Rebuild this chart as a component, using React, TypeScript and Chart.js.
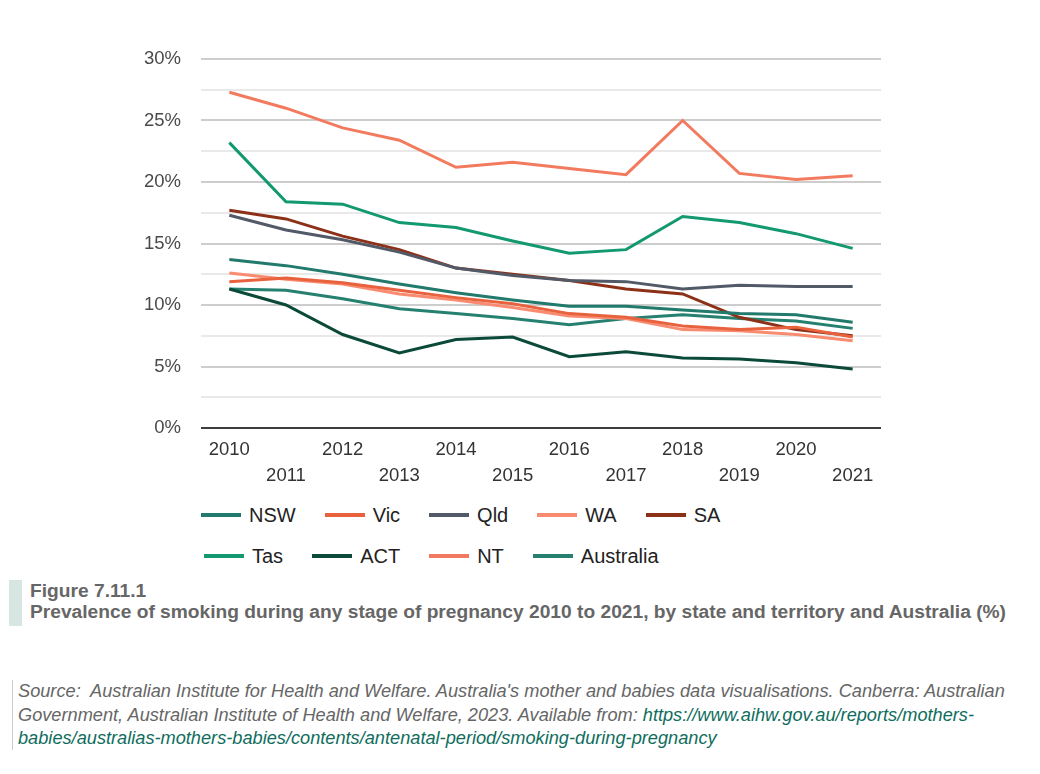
import React, { useEffect, useRef } from "react";
import { Chart, registerables } from "chart.js";

Chart.register(...registerables);

// Survey years
const years = ["2010", "2011", "2012", "2013", "2014", "2015", "2016", "2017", "2018", "2019", "2020", "2021"];

// Prevalence of smoking during pregnancy (%)
const nsw = [13.7, 13.2, 12.5, 11.7, 11.0, 10.4, 9.9, 9.9, 9.6, 9.3, 9.2, 8.6];
const vic = [11.9, 12.2, 11.8, 11.2, 10.6, 10.1, 9.3, 9.0, 8.3, 8.0, 8.2, 7.4];
const qld = [17.3, 16.1, 15.3, 14.3, 13.0, 12.4, 12.0, 11.9, 11.3, 11.6, 11.5, 11.5];
const wa = [12.6, 12.1, 11.7, 10.9, 10.4, 9.8, 9.1, 8.9, 8.0, 7.9, 7.6, 7.1];
const sa = [17.7, 17.0, 15.6, 14.5, 13.0, 12.5, 12.0, 11.3, 10.9, 9.0, 8.0, 7.5];
const tas = [23.2, 18.4, 18.2, 16.7, 16.3, 15.2, 14.2, 14.5, 17.2, 16.7, 15.8, 14.6];
const act = [11.3, 10.0, 7.6, 6.1, 7.2, 7.4, 5.8, 6.2, 5.7, 5.6, 5.3, 4.8];
const nt = [27.3, 26.0, 24.4, 23.4, 21.2, 21.6, 21.1, 20.6, 25.0, 20.7, 20.2, 20.5];
const australia = [11.3, 11.2, 10.5, 9.7, 9.3, 8.9, 8.4, 8.9, 9.2, 8.9, 8.7, 8.1];

// Y axis ticks (every 2.5 %, labelled every 5 %)
const yMin = 0;
const yMax = 30;
const yStep = 2.5;

const seriesNames = ["NSW", "Vic", "Qld", "WA", "SA", "Tas", "ACT", "NT", "Australia"];
const seriesValues = [nsw, vic, qld, wa, sa, tas, act, nt, australia];
const seriesColors = ["#217a6b", "#e8623e", "#525a68", "#f98c70", "#8c3118", "#13996f", "#0b4a39", "#f27b5f", "#26806f"];

const legendRows = [
  [0, 1, 2, 3, 4],
  [5, 6, 7, 8],
];

const FONT = "'Liberation Sans', Arial, sans-serif";

export default function App() {
  const canvasRef = useRef<HTMLCanvasElement | null>(null);

  useEffect(() => {
    const canvas = canvasRef.current;
    if (!canvas) return;
    const chart = new Chart(canvas, {
      type: "line",
      data: {
        labels: years,
        datasets: seriesNames.map((name, i) => ({
          label: name,
          data: seriesValues[i],
          borderColor: seriesColors[i],
          backgroundColor: seriesColors[i],
          borderWidth: 3,
          pointRadius: 0,
          pointHoverRadius: 0,
          tension: 0,
          fill: false,
        })),
      },
      options: {
        responsive: false,
        animation: false,
        events: [],
        layout: { padding: { top: 59, right: 159, bottom: 0, left: 0 } },
        plugins: {
          legend: { display: false },
          title: { display: false },
          tooltip: { enabled: false },
        },
        scales: {
          x: {
            type: "category",
            offset: true,
            grid: { display: false, drawTicks: false },
            border: { display: false },
            ticks: {
              autoSkip: false,
              maxRotation: 0,
              minRotation: 0,
              padding: 9,
              color: "#333333",
              font: { family: FONT, size: 18.5, lineHeight: "26px" },
              callback: (_v: any, i: number) => (i % 2 === 0 ? [years[i]] : ["", years[i]]),
            },
            afterFit: (scale: any) => {
              scale.height = 72;
            },
          },
          y: {
            min: yMin,
            max: yMax,
            grid: {
              drawTicks: false,
              color: (ctx: any) => {
                const v = ctx.tick ? ctx.tick.value : 1;
                if (v === 0) return "#3d3d3d";
                return v % 5 === 0 ? "#cdcdcd" : "#e9e9e9";
              },
              lineWidth: 2,
            },
            border: { display: false },
            ticks: {
              stepSize: yStep,
              padding: 20,
              color: "#4a4a4a",
              font: { family: FONT, size: 18.5 },
              callback: (v: any) => (Number(v) % 5 === 0 ? `${v}%` : ""),
            },
            afterFit: (scale: any) => {
              scale.width = 201;
            },
          },
        },
      },
    });
    return () => chart.destroy();
  }, []);

  return (
    <div style={{ position: "absolute", left: 0, top: 0, width: 1040, height: 774, background: "#ffffff", fontFamily: FONT }}>
      <canvas ref={canvasRef} width={1040} height={500} style={{ position: "absolute", left: 0, top: 0, display: "block" }} />

      {legendRows.map((row, r) => (
        <div
          key={r}
          style={{
            position: "absolute",
            left: r === 0 ? 201 : 204,
            top: r === 0 ? 503 : 544,
            height: 24,
            display: "flex",
            alignItems: "center",
            gap: 29,
            whiteSpace: "nowrap",
          }}
        >
          {row.map((idx) => (
            <div key={idx} style={{ display: "flex", alignItems: "center" }}>
              <div style={{ width: 40, height: 4, background: seriesColors[idx], marginRight: 8 }} />
              <span style={{ fontSize: 20, color: "#222222", lineHeight: "24px" }}>{seriesNames[idx]}</span>
            </div>
          ))}
        </div>
      ))}

      <div style={{ position: "absolute", left: 9, top: 580, width: 13, height: 46, background: "#d7e6e2" }} />
      <div style={{ position: "absolute", left: 30, top: 580, fontSize: 19.2, fontWeight: 700, color: "#666666", lineHeight: "21px", whiteSpace: "nowrap" }}>
        <div>Figure 7.11.1</div>
        <div>Prevalence of smoking during any stage of pregnancy 2010 to 2021, by state and territory and Australia (%)</div>
      </div>

      <div style={{ position: "absolute", left: 12, top: 680, width: 1, height: 70, background: "#cccccc" }} />
      <div style={{ position: "absolute", left: 18, top: 680, fontSize: 18.2, fontStyle: "italic", color: "#666666", lineHeight: "23.5px", whiteSpace: "nowrap" }}>
        <div>Source:&nbsp; Australian Institute for Health and Welfare. Australia's mother and babies data visualisations. Canberra: Australian</div>
        <div>
          Government, Australian Institute of Health and Welfare, 2023. Available from:{" "}
          <span style={{ color: "#0f6d5d" }}>https://www.aihw.gov.au/reports/mothers-</span>
        </div>
        <div style={{ color: "#0f6d5d" }}>babies/australias-mothers-babies/contents/antenatal-period/smoking-during-pregnancy</div>
      </div>
    </div>
  );
}
